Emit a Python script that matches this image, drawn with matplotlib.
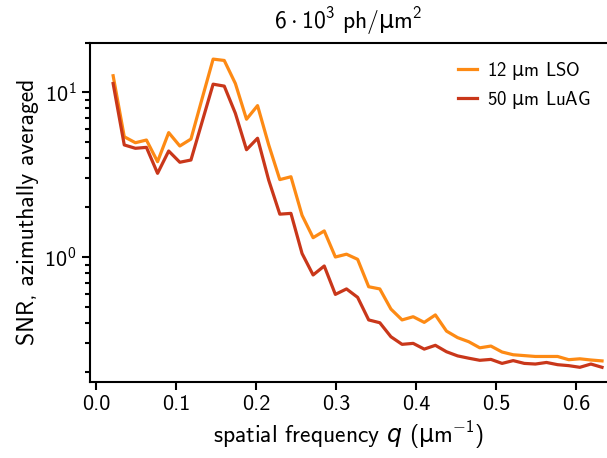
import matplotlib
matplotlib.use("Agg")
import matplotlib.pyplot as plt
import numpy as np

plt.rcParams['font.family'] = ['cmss10', 'DejaVu Sans']
plt.rcParams['mathtext.fontset'] = 'custom'
plt.rcParams['mathtext.rm'] = 'cmss10'
plt.rcParams['mathtext.sf'] = 'DejaVu Sans'
plt.rcParams['mathtext.it'] = 'DejaVu Sans:italic'
plt.rcParams['axes.unicode_minus'] = False
plt.rcParams['axes.formatter.use_mathtext'] = True

# spatial frequency bins (1/um)
q = [0.0216, 0.0355, 0.0494, 0.0632, 0.0771, 0.0910, 0.1049, 0.1188, 0.1326,
     0.1465, 0.1604, 0.1743, 0.1882, 0.2020, 0.2159, 0.2298, 0.2437, 0.2576,
     0.2714, 0.2853, 0.2992, 0.3131, 0.3270, 0.3408, 0.3547, 0.3686, 0.3825,
     0.3964, 0.4102, 0.4241, 0.4380, 0.4519, 0.4658, 0.4796, 0.4935, 0.5074,
     0.5213, 0.5352, 0.5490, 0.5629, 0.5768, 0.5907, 0.6046, 0.6184, 0.6323]

snr_lso = [12.6, 5.37, 4.94, 5.13, 3.79, 5.69, 4.72, 5.2, 9.1, 15.9,
           15.6, 11.3, 6.86, 8.3, 4.8, 2.95, 3.07, 1.79, 1.31, 1.44,
           1.0, 1.04, 0.968, 0.66, 0.64, 0.483, 0.415, 0.434, 0.401, 0.445,
           0.355, 0.324, 0.306, 0.281, 0.288, 0.265, 0.255, 0.252, 0.249, 0.249,
           0.249, 0.238, 0.241, 0.237, 0.234]

snr_luag = [11.3, 4.79, 4.57, 4.63, 3.22, 4.40, 3.76, 3.88, 6.58, 11.2,
            10.9, 7.45, 4.48, 5.26, 2.93, 1.82, 1.84, 1.05, 0.778, 0.882,
            0.593, 0.64, 0.569, 0.415, 0.399, 0.328, 0.295, 0.299, 0.276, 0.291,
            0.266, 0.251, 0.243, 0.236, 0.239, 0.226, 0.235, 0.226, 0.224, 0.229,
            0.222, 0.219, 0.214, 0.224, 0.214]

MU = r'$\mathsf{\mu}$'

fig = plt.figure(figsize=(6.07, 4.58), dpi=100)
ax = fig.add_axes([0.148, 0.1666, 0.852, 0.7402])

ax.plot(q, snr_lso, color='#fd8a14', lw=2.3, label='12 ' + MU + 'm LSO')
ax.plot(q, snr_luag, color='#c9371a', lw=2.3, label='50 ' + MU + 'm LuAG')

ax.set_yscale('log')
ax.set_ylim(0.175, 20)
ax.set_xlim(-0.0075, 0.6385)
ax.set_xticks([0.0, 0.1, 0.2, 0.3, 0.4, 0.5, 0.6])
ax.set_xticklabels(['0.0', '0.1', '0.2', '0.3', '0.4', '0.5', '0.6'])

ax.spines['right'].set_visible(False)
ax.spines['top'].set_linewidth(1.5)
ax.spines['left'].set_linewidth(1.5)
ax.spines['bottom'].set_linewidth(1.5)
ax.tick_params(which='both', direction='out', labelsize=16, width=1.5)
ax.tick_params(which='major', length=6)
ax.tick_params(which='minor', length=3.5)

ax.set_xlabel(r'spatial frequency $q$ ($\mathsf{\mu}$m$^{-1}$)', fontsize=17)
ax.set_ylabel('SNR, azimuthally averaged', fontsize=17)
ax.set_title(r'$6\cdot10^{3}$ ph/$\mathsf{\mu}$m$^{2}$', fontsize=17, pad=10)

ax.legend(loc='upper right', frameon=False, fontsize=13.5, handlelength=1.0,
          handletextpad=0.5, labelspacing=0.4, borderaxespad=0.5)

fig.savefig('out.png', dpi=100)
